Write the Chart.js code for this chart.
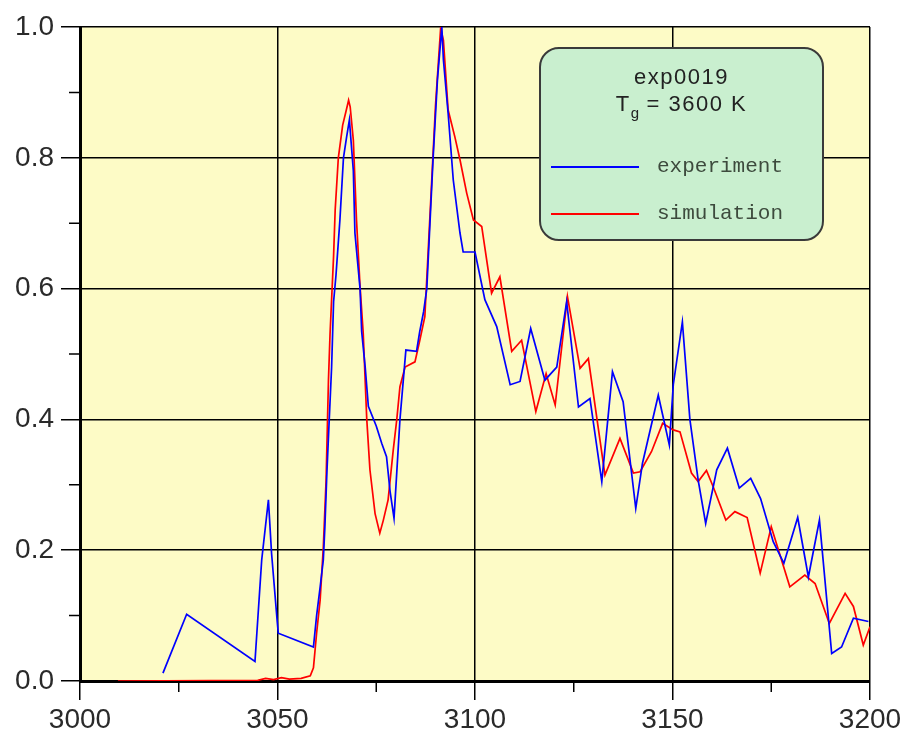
<!DOCTYPE html>
<html>
<head>
<meta charset="utf-8">
<script src="https://cdn.jsdelivr.net/npm/chart.js@4"></script>
<style>
  html, body { margin: 0; padding: 0; background: #ffffff; }
  #wrap { position: relative; width: 907px; height: 735px; }
  #c { position: absolute; left: 0; top: 0; }
  #legendBox {
    position: absolute; left: 539px; top: 47px; width: 285px; height: 194px;
    box-sizing: border-box; border: 2px solid #3a3a3a; border-radius: 20px;
    background: #c9efcf;
  }
  .ttl { position: absolute; left: 0; width: 100%; text-align: center;
    font-family: "Liberation Sans", Arial, sans-serif; font-size: 22px; color: #222; letter-spacing: 1.5px; }
  .ttl sub { font-size: 15px; vertical-align: -7px; letter-spacing: 0; }
  .sample { position: absolute; left: 10px; width: 88px; height: 2px; }
  .lbl { position: absolute; left: 116px; font-family: "Liberation Mono", "Courier New", monospace;
    font-size: 21px; color: #3d4a3d; line-height: 20px; }
</style>
</head>
<body>
<div id="wrap">
  <canvas id="c" width="907" height="735"></canvas>
  <div id="legendBox">
    <div class="ttl" style="top:15px;">exp0019</div>
    <div class="ttl" style="top:42px;">T<sub>g</sub> = 3600 K</div>
    <div class="sample" style="top:117px; background:#0000ff;"></div>
    <div class="lbl" style="top:108px;">experiment</div>
    <div class="sample" style="top:164px; background:#ff0000;"></div>
    <div class="lbl" style="top:155px;">simulation</div>
  </div>
</div>
<script>
// ---- data ----
const seriesNames = ["experiment", "simulation"];

const expX = [3021.0, 3027.0, 3044.3, 3046.0, 3047.7, 3048.5, 3049.9, 3050.2, 3059.1, 3059.9, 3060.8, 3061.6, 3062.0, 3062.5, 3063.1, 3063.7, 3064.2, 3064.8, 3065.8, 3066.7, 3067.5, 3068.2, 3069.2, 3069.6, 3070.9, 3071.3, 3072.2, 3073.0, 3075.0, 3076.4, 3077.6, 3078.5, 3079.5, 3081.0, 3082.5, 3085.2, 3086.0, 3087.0, 3087.8, 3088.6, 3089.4, 3090.5, 3091.6, 3092.0, 3093.2, 3094.5, 3096.2, 3097.0, 3100.0, 3102.5, 3105.5, 3108.9, 3111.4, 3114.1, 3117.7, 3120.7, 3123.2, 3126.2, 3129.1, 3132.1, 3134.8, 3137.5, 3140.7, 3142.4, 3146.4, 3149.2, 3150.2, 3152.5, 3154.4, 3156.5, 3158.4, 3161.2, 3163.9, 3166.9, 3169.8, 3172.3, 3175.5, 3178.2, 3181.7, 3184.4, 3187.2, 3190.3, 3192.8, 3195.8, 3199.6];
const expY = [0.012, 0.102, 0.030, 0.185, 0.277, 0.195, 0.093, 0.073, 0.052, 0.100, 0.144, 0.185, 0.236, 0.318, 0.400, 0.480, 0.580, 0.620, 0.705, 0.800, 0.832, 0.858, 0.780, 0.685, 0.600, 0.535, 0.480, 0.420, 0.390, 0.363, 0.343, 0.290, 0.249, 0.400, 0.506, 0.504, 0.534, 0.565, 0.600, 0.700, 0.800, 0.920, 1.000, 0.950, 0.868, 0.766, 0.685, 0.656, 0.656, 0.583, 0.542, 0.453, 0.458, 0.539, 0.460, 0.480, 0.580, 0.419, 0.432, 0.305, 0.473, 0.427, 0.264, 0.333, 0.437, 0.361, 0.453, 0.549, 0.400, 0.307, 0.241, 0.323, 0.356, 0.295, 0.310, 0.279, 0.213, 0.180, 0.250, 0.159, 0.246, 0.042, 0.052, 0.096, 0.091];

const simX = [3009.6, 3045.0, 3047.0, 3049.0, 3051.0, 3053.0, 3056.0, 3058.3, 3059.1, 3059.9, 3060.8, 3061.6, 3062.3, 3062.9, 3063.3, 3064.2, 3064.6, 3065.4, 3066.5, 3067.3, 3068.0, 3068.4, 3069.2, 3070.0, 3070.9, 3071.7, 3072.6, 3073.4, 3074.7, 3075.9, 3076.8, 3078.0, 3079.3, 3080.2, 3081.0, 3082.3, 3084.8, 3086.0, 3087.3, 3088.0, 3089.0, 3090.0, 3091.3, 3092.0, 3093.2, 3094.9, 3096.2, 3097.9, 3099.6, 3101.7, 3104.2, 3106.3, 3109.3, 3111.8, 3115.4, 3118.0, 3120.3, 3123.4, 3126.6, 3128.7, 3132.9, 3136.7, 3140.1, 3141.8, 3144.7, 3147.5, 3150.2, 3151.9, 3154.8, 3156.5, 3158.6, 3160.3, 3163.5, 3165.8, 3168.9, 3172.2, 3175.0, 3179.7, 3183.5, 3186.1, 3189.7, 3193.7, 3195.8, 3198.3, 3200.0];
const simY = [0.000, 0.001, 0.004, 0.002, 0.005, 0.003, 0.004, 0.008, 0.020, 0.073, 0.124, 0.205, 0.307, 0.460, 0.530, 0.650, 0.720, 0.800, 0.850, 0.870, 0.888, 0.878, 0.827, 0.705, 0.603, 0.532, 0.400, 0.323, 0.256, 0.226, 0.246, 0.277, 0.353, 0.400, 0.450, 0.480, 0.488, 0.520, 0.557, 0.640, 0.760, 0.880, 0.998, 0.980, 0.873, 0.832, 0.797, 0.746, 0.705, 0.695, 0.593, 0.618, 0.504, 0.521, 0.412, 0.470, 0.422, 0.588, 0.478, 0.493, 0.315, 0.371, 0.318, 0.320, 0.351, 0.394, 0.384, 0.381, 0.318, 0.305, 0.322, 0.297, 0.246, 0.259, 0.250, 0.165, 0.236, 0.144, 0.162, 0.149, 0.088, 0.134, 0.114, 0.055, 0.083];

const xMajorTicks = [3000, 3050, 3100, 3150, 3200];
const xMinorTicks = [3025, 3075, 3125, 3175];
const yMajorTicks = [0.0, 0.2, 0.4, 0.6, 0.8, 1.0];
const yMinorTicks = [0.1, 0.3, 0.5, 0.7, 0.9];

// ---- build ----
const toPts = (xs, ys) => xs.map((x, i) => ({ x: x, y: ys[i] }));

const bgPlugin = {
  id: 'plotBg',
  beforeDraw(chart) {
    const { ctx, chartArea: a } = chart;
    ctx.save();
    ctx.fillStyle = '#fdfbc6';
    ctx.fillRect(a.left, a.top, a.right - a.left, a.bottom - a.top);
    ctx.restore();
  }
};

const minorTickPlugin = {
  id: 'minorTicks',
  afterDraw(chart) {
    const { ctx, chartArea: a, scales } = chart;
    ctx.save();
    ctx.strokeStyle = '#000';
    ctx.lineWidth = 1.5;
    ctx.beginPath();
    xMinorTicks.forEach(v => {
      const px = scales.x.getPixelForValue(v);
      ctx.moveTo(px, a.bottom); ctx.lineTo(px, a.bottom + 11);
    });
    yMinorTicks.forEach(v => {
      const py = scales.y.getPixelForValue(v);
      ctx.moveTo(a.left - 11, py); ctx.lineTo(a.left, py);
    });
    ctx.stroke();
    ctx.restore();
  }
};

const tickFont = { family: '"Liberation Sans", Arial, sans-serif', size: 28 };

new Chart(document.getElementById('c'), {
  type: 'line',
  data: {
    datasets: [
      { label: seriesNames[0], data: toPts(expX, expY), borderColor: '#0000ff', borderWidth: 1.7,
        pointRadius: 0, tension: 0, fill: false },
      { label: seriesNames[1], data: toPts(simX, simY), borderColor: '#ff0000', borderWidth: 1.7,
        pointRadius: 0, tension: 0, fill: false }
    ]
  },
  options: {
    responsive: false,
    animation: false,
    devicePixelRatio: 1,
    layout: { padding: { top: 27, right: 37, left: 0, bottom: 0 } },
    plugins: { legend: { display: false }, tooltip: { enabled: false } },
    scales: {
      x: {
        type: 'linear', min: 3000, max: 3200,
        afterBuildTicks(scale) { scale.ticks = xMajorTicks.map(v => ({ value: v })); },
        afterFit(scale) { scale.height = 54; scale.paddingLeft = 0; scale.paddingRight = 0; },
        ticks: { font: tickFont, color: '#2a2a2a', padding: 3, maxRotation: 0, autoSkip: false,
          callback: v => String(v) },
        grid: { color: '#000', lineWidth: 1.5, tickLength: 19, tickColor: '#000', tickWidth: 1.5 },
        border: { display: true, color: '#000', width: 3 }
      },
      y: {
        type: 'linear', min: 0, max: 1,
        afterBuildTicks(scale) { scale.ticks = yMajorTicks.map(v => ({ value: v })); },
        afterFit(scale) { scale.width = 80; scale.paddingTop = 0; scale.paddingBottom = 0; },
        ticks: { font: tickFont, color: '#2a2a2a', padding: 7, autoSkip: false,
          callback: v => Number(v).toFixed(1) },
        grid: { color: '#000', lineWidth: 1.5, tickLength: 19, tickColor: '#000', tickWidth: 1.5 },
        border: { display: true, color: '#000', width: 3 }
      }
    }
  },
  plugins: [bgPlugin, minorTickPlugin]
});
</script>
</body>
</html>
